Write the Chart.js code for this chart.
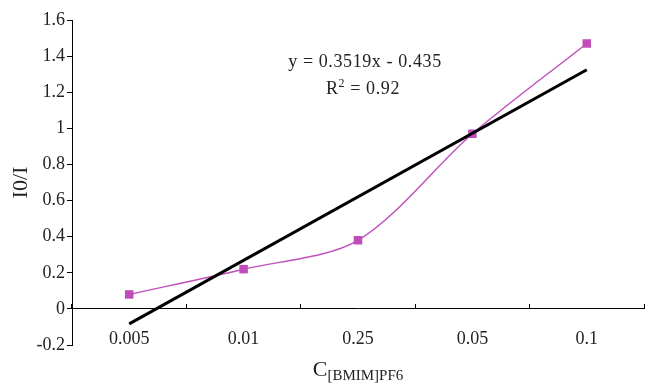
<!DOCTYPE html>
<html>
<head>
<meta charset="utf-8">
<script src="https://cdn.jsdelivr.net/npm/chart.js@4"></script>
<style>
  body { margin: 0; background: #fff; }
  #wrap { position: relative; width: 645px; height: 383px; overflow: hidden; }
  .txt { position: absolute; font-family: "Liberation Serif", "Times New Roman", serif; color: #222; text-align: center; white-space: nowrap; }
</style>
</head>
<body>
<div id="wrap">
  <canvas id="myChart" width="650" height="383"></canvas>
  <div class="txt" style="left:265px; width:200px; top:50px; font-size:18px; line-height:22px; letter-spacing:0.6px;">y = 0.3519x - 0.435</div>
  <div class="txt" style="left:263px; width:200px; top:77px; font-size:18px; line-height:22px; letter-spacing:0.6px;">R<sup style="font-size:12px; vertical-align:7px; line-height:0">2</sup> = 0.92</div>
  <div class="txt" style="left:258px; width:200px; top:358px; font-size:22px; line-height:22px;">C<span style="font-size:15px; vertical-align:-4px;">[BMIM]PF6</span></div>
</div>
<script>
const concentrations = ["0.005", "0.01", "0.25", "0.05", "0.1"]
const ratio = [0.08, 0.22, 0.38, 0.97, 1.47]
const yTicks = { min: -0.2, max: 1.6, step: 0.2 }

// trend line from the fitted equation shown on the chart
const slope = 0.3519
const intercept = -0.435
const trendStart = slope * 1 + intercept
const trendEnd = slope * concentrations.length + intercept

const serif = "'Liberation Serif', 'Times New Roman', serif"
const textColor = "#222"

const ctx = document.getElementById("myChart").getContext("2d");

new Chart(ctx, {
    type: "line",
    data: {
        labels: concentrations,
        datasets: [
            {
                label: "trend",
                data: [
                    { x: concentrations[0], y: trendStart },
                    { x: concentrations[concentrations.length - 1], y: trendEnd }
                ],
                borderColor: "#000",
                borderWidth: 3,
                pointRadius: 0,
                tension: 0
            },
            {
                label: "I0/I",
                data: ratio,
                borderColor: "#c050bb",
                backgroundColor: "#bf4cb8",
                borderWidth: 1.5,
                pointStyle: "rect",
                pointRadius: 6,
                pointBorderWidth: 0,
                tension: 0.3
            }
        ]
    },
    options: {
        responsive: false,
        animation: false,
        devicePixelRatio: 1,
        layout: {
            padding: { top: 20, bottom: 38, left: 0, right: 0 }
        },
        plugins: {
            legend: { display: false },
            tooltip: { enabled: false }
        },
        scales: {
            x: {
                type: "category",
                position: { y: 0 },
                offset: true,
                border: { display: true, color: "#000", width: 1 },
                grid: {
                    offset: true,
                    drawOnChartArea: false,
                    drawTicks: true,
                    tickLength: -5,
                    tickColor: "#000"
                },
                ticks: {
                    color: textColor,
                    font: { family: serif, size: 18 },
                    padding: 25,
                    maxRotation: 0,
                    autoSkip: false
                }
            },
            y: {
                min: yTicks.min,
                max: yTicks.max,
                afterFit: scale => { scale.width = 72 },
                border: { display: true, color: "#000", width: 1 },
                grid: {
                    drawOnChartArea: false,
                    drawTicks: true,
                    tickLength: 5,
                    tickColor: "#000"
                },
                ticks: {
                    stepSize: yTicks.step,
                    color: textColor,
                    font: { family: serif, size: 18 },
                    padding: 2,
                    callback: v => String(Math.round(v * 10) / 10)
                },
                title: {
                    display: true,
                    text: "I0/I",
                    color: textColor,
                    font: { family: serif, size: 22 },
                    padding: { top: 8, bottom: 0 }
                }
            }
        }
    }
});
</script>
</body>
</html>
